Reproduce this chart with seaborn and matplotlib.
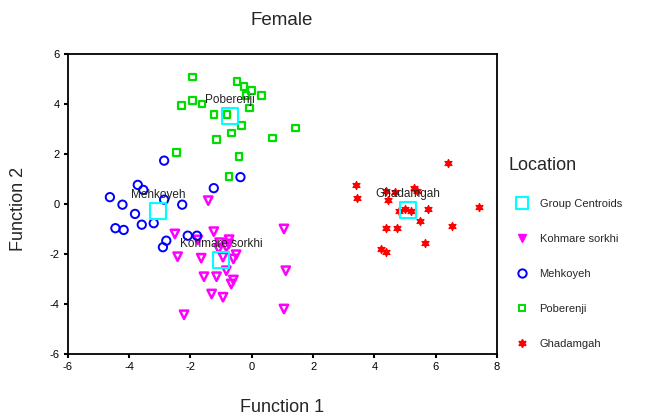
import matplotlib
matplotlib.use("Agg")
import matplotlib.pyplot as plt
from matplotlib.lines import Line2D
import pandas as pd
import seaborn as sns

# discriminant scores (Function 1, Function 2)
kohmare_x = [-1.42, -2.51, -1.24, -0.74, -1.76, 1.05, -2.42, -1.65, -0.94, -0.51, -0.60, -0.83, -1.08,
             -1.56, -1.15, -0.83, -0.60, -0.67, 1.11, -1.31, -0.94, -2.21, 1.05, -1.05, -0.75]
kohmare_y = [0.13, -1.20, -1.11, -1.43, -1.44, -1.00, -2.11, -2.17, -2.13, -2.03, -2.20, -1.73, -1.80,
             -2.91, -2.91, -2.67, -3.04, -3.20, -2.67, -3.60, -3.73, -4.43, -4.20, -1.55, -1.60]

mehkoyeh_x = [-2.86, -0.37, -1.24, -3.72, -3.54, -4.63, -4.22, -2.86, -2.27, -3.81, -3.59, -3.20,
              -4.45, -4.18, -2.09, -1.79, -2.79, -2.90]
mehkoyeh_y = [1.73, 1.07, 0.63, 0.76, 0.56, 0.27, -0.03, 0.17, -0.03, -0.40, -0.83, -0.77,
              -0.97, -1.04, -1.27, -1.27, -1.47, -1.73]

poberenji_x = [-1.93, -0.48, -0.26, -0.01, 0.31, -0.19, -2.30, -1.94, -1.63, -0.08, -1.24, -0.81,
               -0.33, 1.43, -0.67, -1.15, 0.67, -2.45, -0.42, -0.74]
poberenji_y = [5.07, 4.89, 4.69, 4.53, 4.33, 4.33, 3.93, 4.13, 4.00, 3.83, 3.57, 3.57,
               3.13, 3.04, 2.83, 2.57, 2.63, 2.05, 1.89, 1.09]

ghadamgah_x = [3.40, 3.42, 4.43, 4.38, 4.66, 5.31, 5.38, 6.41, 4.80, 5.00, 5.20, 5.75, 7.43, 5.48,
               4.39, 4.73, 6.54, 5.64, 4.22, 4.39]
ghadamgah_y = [0.76, 0.23, 0.16, 0.53, 0.47, 0.63, 0.53, 1.64, -0.27, -0.20, -0.27, -0.20, -0.13, -0.67,
               -0.96, -0.96, -0.87, -1.56, -1.80, -1.93]

groups = ["Kohmare sorkhi", "Mehkoyeh", "Poberenji", "Ghadamgah"]
centroid_x = [-1.00, -3.06, -0.70, 5.09]
centroid_y = [-2.24, -0.27, 3.53, -0.24]

xs = [kohmare_x, mehkoyeh_x, poberenji_x, ghadamgah_x]
ys = [kohmare_y, mehkoyeh_y, poberenji_y, ghadamgah_y]
rows = []
for g, gx, gy in zip(groups, xs, ys):
    for a, b in zip(gx, gy):
        rows.append({"Function 1": a, "Function 2": b, "Location": g})
df = pd.DataFrame(rows)
cent = pd.DataFrame({"Function 1": centroid_x, "Function 2": centroid_y, "Location": groups})

colors = {"Kohmare sorkhi": "#ff00ff", "Mehkoyeh": "#0000ff", "Poberenji": "#00dd00", "Ghadamgah": "#ff0000"}
markers = {"Kohmare sorkhi": "v", "Mehkoyeh": "o", "Poberenji": "s", "Ghadamgah": (6, 1, 0)}
sizes = {"Kohmare sorkhi": 36, "Mehkoyeh": 36, "Poberenji": 22, "Ghadamgah": 32}
hollow = {"Kohmare sorkhi": True, "Mehkoyeh": True, "Poberenji": True, "Ghadamgah": False}
widths = {"Kohmare sorkhi": 1.8, "Mehkoyeh": 1.4, "Poberenji": 1.6, "Ghadamgah": 1.0}

sns.set_style("white")
plt.rcParams["font.family"] = ["Liberation Sans", "DejaVu Sans"]
plt.rcParams["axes.unicode_minus"] = False

fig = plt.figure(figsize=(6.53, 4.17), dpi=100)
ax = fig.add_axes([0.104, 0.151, 0.657, 0.72])

for g in groups:
    sub = df[df["Location"] == g]
    sns.scatterplot(data=sub, x="Function 1", y="Function 2", ax=ax, color=colors[g],
                    marker=markers[g], s=sizes[g], linewidth=widths[g], legend=False)
    pc = ax.collections[-1]
    if hollow[g]:
        pc.set_facecolor("none")
    pc.set_edgecolor(colors[g])

sns.scatterplot(data=cent, x="Function 1", y="Function 2", ax=ax, marker="s", s=130,
                color="#00ffff", linewidth=1.5, legend=False)
ax.collections[-1].set_facecolor("none")
ax.collections[-1].set_edgecolor("#00ffff")

# group names above each centroid
for g, cx, cy in zip(groups, centroid_x, centroid_y):
    ax.text(cx, cy + 0.62, g, ha="center", va="center", fontsize=8.5, color="#222222")

ax.set_xlim(-6, 8)
ax.set_ylim(-6, 6)
ax.set_xticks(range(-6, 9, 2))
ax.set_yticks(range(-6, 7, 2))
ax.tick_params(axis="both", direction="out", length=3, width=1.5, labelsize=8, pad=3,
               left=True, bottom=True, colors="black")
for sp in ax.spines.values():
    sp.set_visible(True)
    sp.set_color("black")
    sp.set_linewidth(1.3)

ax.set_xlabel("")
ax.set_ylabel("")
fig.text(0.432, 0.022, "Function 1", ha="center", va="center", fontsize=13)
fig.text(0.028, 0.50, "Function 2", ha="center", va="center", rotation=90, fontsize=13)
fig.text(0.432, 0.952, "Female", ha="center", va="center", fontsize=13.5)

# legend title placed on its own so it sits left of the handles
fig.text(0.778, 0.604, "Location", ha="left", va="center", fontsize=13)
handles = [
    Line2D([], [], ls="none", marker="s", ms=9, mfc="none", mec="#00ffff", mew=1.5),
    Line2D([], [], ls="none", marker="v", ms=6, mfc="#ff00ff", mec="#ff00ff"),
    Line2D([], [], ls="none", marker="o", ms=6, mfc="none", mec="#0000ff", mew=1.4),
    Line2D([], [], ls="none", marker="s", ms=5, mfc="none", mec="#00dd00", mew=1.4),
    Line2D([], [], ls="none", marker=(6, 1, 0), ms=6, mfc="#ff0000", mec="#ff0000"),
]
labels = ["Group Centroids"] + groups
leg = fig.legend(handles, labels, loc="upper left",
                 bbox_to_anchor=(0.782, 0.533), frameon=False, fontsize=8,
                 labelspacing=2.25, handletextpad=1.0, handlelength=1.2,
                 borderaxespad=0.0, alignment="left")

fig.savefig("out.png", dpi=100)
